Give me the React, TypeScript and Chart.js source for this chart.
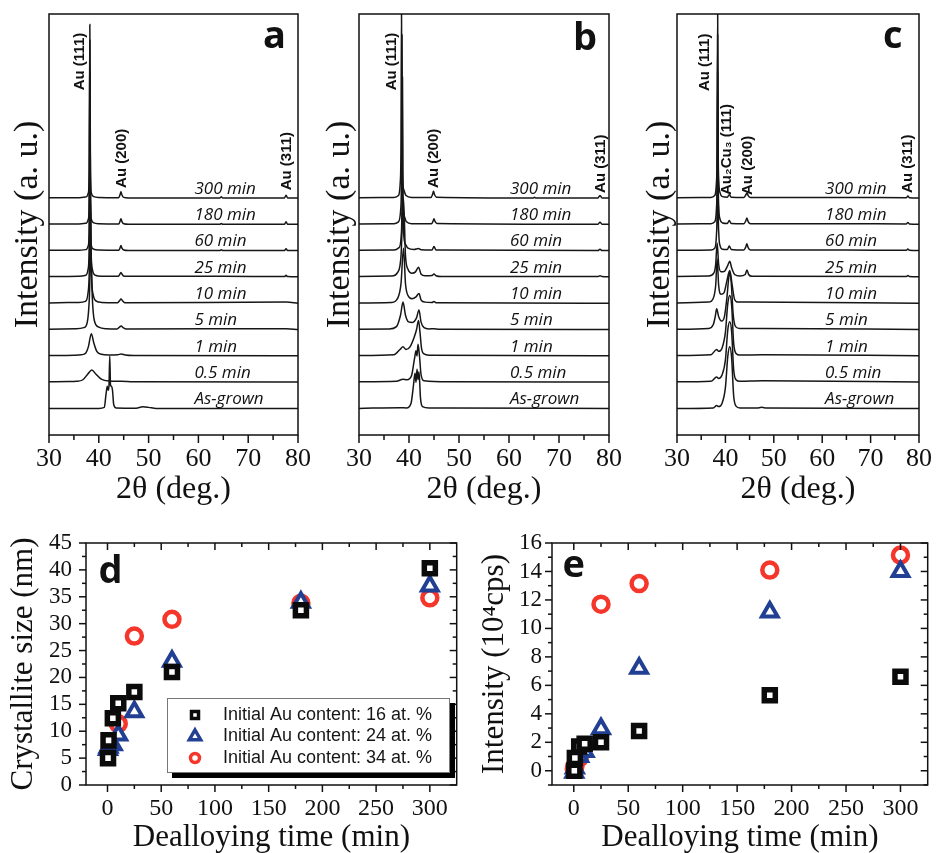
import React, { useEffect, useRef } from 'react';
import { Chart, registerables } from 'chart.js';

Chart.register(...registerables);

type Pt = [number, number];

const SERIF = "'Liberation Serif', 'Times New Roman', serif";
const SANS = "'Liberation Sans', Arial, sans-serif";
const OPEN = "'Open Sans', 'Liberation Sans', sans-serif";

// ---------------- XRD panels (a, b, c) ----------------
const TRACE_LABELS = ['As-grown', '0.5 min', '1 min', '5 min', '10 min', '25 min', '60 min', '180 min', '300 min'];
const TRACE_OFFSETS = [1, 2, 3, 4, 5, 6, 7, 8, 9];
const TWO_THETA_TICKS = [30, 40, 50, 60, 70, 80];
const TWO_THETA_MINOR = [35, 45, 55, 65, 75];

// panel a
const A_AG: Pt[] = [[30,0.01],[40,0.01],[41.1,0.05],[41.45,0.55],[41.7,0.85],[41.9,0.7],[42.05,0.9],[42.2,2.0],[42.35,0.9],[42.55,0.85],[42.75,0.7],[43.0,0.15],[43.5,0.03],[47.5,0.02],[48.8,0.07],[50,0.05],[51.5,0.01],[80,0.01]];
const A_05: Pt[] = [[30,0.02],[34,0.03],[35.5,0.04],[36.8,0.1],[37.8,0.32],[38.6,0.47],[39.4,0.32],[40.5,0.12],[42,0.05],[44.5,0.04],[47,0.02],[80,0.01]];
const A_1: Pt[] = [[30,0.02],[35,0.03],[36.5,0.05],[37.4,0.12],[37.9,0.35],[38.5,0.85],[39.0,0.5],[39.6,0.18],[40.5,0.07],[42,0.04],[43.8,0.05],[44.5,0.08],[45.3,0.04],[47,0.02],[80,0.01]];
const A_5: Pt[] = [[30,0.02],[35.5,0.04],[37.0,0.08],[37.7,0.3],[38.1,1.2],[38.4,3.0],[38.7,1.2],[39.1,0.35],[40,0.1],[41.5,0.04],[43.7,0.03],[44.1,0.09],[44.5,0.14],[44.9,0.08],[45.5,0.03],[77.6,0.04],[80,0.01]];
const A_10: Pt[] = [[30,0.02],[36,0.04],[37.3,0.08],[37.8,0.35],[38.1,1.3],[38.3,4.1],[38.5,1.3],[38.85,0.35],[39.5,0.09],[40.5,0.04],[43.8,0.03],[44.15,0.1],[44.45,0.17],[44.75,0.1],[45.2,0.03],[77.6,0.05],[80,0.01]];
const A_25: Pt[] = [[30,0.02],[36,0.03],[37.4,0.07],[37.85,0.3],[38.08,1.2],[38.25,5.6],[38.42,1.2],[38.7,0.3],[39.3,0.07],[40.5,0.03],[43.9,0.03],[44.2,0.1],[44.45,0.18],[44.7,0.1],[45.1,0.03],[64.6,0.03],[77.3,0.02],[77.6,0.07],[77.9,0.02],[80,0.01]];
const A_60: Pt[] = [[30,0.02],[36,0.02],[37.5,0.05],[37.9,0.2],[38.08,1.0],[38.2,6.8],[38.32,1.0],[38.5,0.2],[39,0.06],[40,0.03],[44,0.02],[44.25,0.1],[44.45,0.2],[44.65,0.1],[45,0.03],[46,0.01],[64.3,0.01],[64.6,0.04],[64.9,0.01],[77.3,0.01],[77.6,0.08],[77.9,0.01],[80,0.01]];
const A_180: Pt[] = [[30,0.02],[36,0.02],[37.5,0.05],[37.9,0.2],[38.08,1.0],[38.2,7.0],[38.32,1.0],[38.5,0.2],[39,0.06],[40,0.03],[44,0.02],[44.25,0.11],[44.45,0.22],[44.65,0.11],[45,0.03],[46,0.01],[64.3,0.01],[64.6,0.04],[64.9,0.01],[77.3,0.01],[77.6,0.1],[77.9,0.01],[80,0.01]];
const A_300: Pt[] = [[30,0.02],[36,0.02],[37.5,0.05],[37.9,0.2],[38.08,1.0],[38.2,6.6],[38.32,1.0],[38.5,0.2],[39,0.06],[40,0.03],[44,0.02],[44.25,0.12],[44.45,0.24],[44.65,0.12],[45,0.03],[46,0.01],[64.3,0.01],[64.6,0.05],[64.9,0.01],[77.3,0.01],[77.6,0.11],[77.9,0.01],[80,0.01]];

// panel b
const B_AG: Pt[] = [[30,0.01],[38.3,0.04],[39.5,0.03],[40.4,0.2],[40.9,0.9],[41.2,1.35],[41.4,1.0],[41.6,1.5],[41.8,1.1],[42.0,1.4],[42.3,0.4],[42.7,0.08],[44,0.03],[48,0.03],[80,0.01]];
const B_05: Pt[] = [[30,0.02],[37.5,0.04],[38.8,0.12],[39.6,0.1],[40.5,0.25],[41.1,0.9],[41.4,1.2],[41.6,1.0],[41.8,1.45],[42.1,1.0],[42.4,0.3],[43,0.06],[48,0.02],[80,0.01]];
const B_1: Pt[] = [[30,0.02],[37,0.05],[38.2,0.25],[38.8,0.35],[39.4,0.25],[40.2,0.35],[41.0,0.7],[41.5,1.0],[41.9,1.35],[42.2,0.9],[42.5,0.3],[43,0.08],[44,0.03],[80,0.01]];
const B_5: Pt[] = [[30,0.02],[36,0.03],[37.5,0.12],[38.3,0.55],[38.8,1.05],[39.3,0.55],[39.9,0.3],[40.7,0.28],[41.5,0.45],[42.0,0.75],[42.4,0.3],[43,0.08],[44,0.03],[45,0.04],[46,0.02],[80,0.01]];
const B_10: Pt[] = [[30,0.02],[36.5,0.04],[37.8,0.22],[38.4,0.75],[38.9,2.1],[39.3,0.75],[39.8,0.3],[40.6,0.18],[41.4,0.25],[42.0,0.38],[42.4,0.14],[43.2,0.05],[44.6,0.04],[45.0,0.07],[45.4,0.03],[80,0.01]];
const B_25: Pt[] = [[30,0.02],[36.5,0.04],[37.8,0.2],[38.4,0.8],[38.9,3.0],[39.3,0.8],[39.8,0.3],[40.6,0.15],[41.3,0.2],[41.9,0.38],[42.4,0.12],[43.2,0.05],[44.6,0.06],[45.0,0.12],[45.4,0.05],[46.5,0.02],[77.8,0.02],[78.2,0.05],[78.6,0.02],[80,0.01]];
const B_60: Pt[] = [[30,0.02],[37,0.03],[38.0,0.12],[38.45,0.6],[38.6,2.0],[38.7,6.6],[38.8,2.0],[38.95,0.6],[39.3,0.25],[39.8,0.1],[41.0,0.05],[41.9,0.09],[42.4,0.04],[44.6,0.03],[45.0,0.16],[45.4,0.03],[77.8,0.01],[78.2,0.06],[78.6,0.01],[80,0.01]];
const B_180: Pt[] = [[30,0.02],[37,0.03],[37.9,0.1],[38.35,0.6],[38.5,2.0],[38.6,7.2],[38.7,2.0],[38.85,0.6],[39.1,0.3],[39.5,0.1],[40.5,0.03],[44.5,0.03],[44.8,0.12],[45.0,0.22],[45.2,0.12],[45.6,0.04],[77.8,0.01],[78.2,0.09],[78.6,0.01],[80,0.01]];
const B_300: Pt[] = [[30,0.02],[37,0.03],[37.9,0.1],[38.25,0.6],[38.4,2.0],[38.5,7.2],[38.6,2.0],[38.75,0.6],[39.0,0.3],[39.4,0.1],[40.5,0.03],[44.4,0.03],[44.7,0.14],[44.9,0.26],[45.1,0.14],[45.5,0.04],[64.9,0.01],[65.1,0.04],[65.3,0.01],[77.8,0.01],[78.2,0.1],[78.6,0.01],[80,0.01]];

// panel c
const C_AG: Pt[] = [[30,0.01],[37.5,0.03],[38.2,0.12],[38.6,0.08],[39.3,0.2],[40.0,0.8],[40.5,2.0],[40.9,2.35],[41.3,1.9],[41.7,0.5],[42.2,0.1],[43,0.03],[46.5,0.03],[47.5,0.05],[48.5,0.03],[80,0.01]];
const C_05: Pt[] = [[30,0.02],[37,0.04],[38.2,0.2],[38.6,0.15],[39.3,0.28],[40.0,0.85],[40.5,2.0],[40.9,2.3],[41.3,1.9],[41.7,0.5],[42.2,0.1],[43,0.04],[47.5,0.06],[80,0.01]];
const C_1: Pt[] = [[30,0.02],[37,0.05],[38.2,0.25],[38.6,0.18],[39.3,0.3],[40.0,0.9],[40.5,2.0],[40.9,2.3],[41.3,1.9],[41.7,0.5],[42.2,0.1],[43,0.04],[47.5,0.05],[80,0.01]];
const C_5: Pt[] = [[30,0.02],[36.5,0.05],[37.5,0.2],[37.9,0.5],[38.2,0.8],[38.6,0.5],[39.2,0.33],[39.8,0.5],[40.3,1.2],[40.7,2.0],[40.9,2.2],[41.2,1.8],[41.6,0.6],[42.1,0.12],[43,0.05],[47.5,0.05],[80,0.01]];
const C_10: Pt[] = [[30,0.02],[36.5,0.05],[37.5,0.2],[38.0,0.7],[38.3,1.7],[38.6,0.7],[39.1,0.35],[39.7,0.4],[40.3,0.85],[40.9,1.25],[41.4,0.7],[41.9,0.15],[42.6,0.05],[44.4,0.05],[80,0.01]];
const C_25: Pt[] = [[30,0.02],[36.5,0.04],[37.6,0.15],[38.0,0.5],[38.3,1.3],[38.6,0.5],[39.1,0.2],[39.8,0.22],[40.5,0.45],[40.9,0.6],[41.3,0.35],[41.9,0.1],[43,0.04],[44.1,0.1],[44.45,0.27],[44.8,0.1],[45.5,0.03],[77.4,0.02],[77.7,0.06],[78,0.02],[80,0.01]];
const C_60: Pt[] = [[30,0.02],[37,0.03],[37.8,0.1],[38.15,0.6],[38.3,2.0],[38.4,6.8],[38.5,2.0],[38.65,0.6],[38.9,0.2],[39.4,0.06],[40.4,0.05],[40.8,0.18],[41.2,0.05],[43.8,0.03],[44.2,0.14],[44.45,0.27],[44.7,0.12],[45.2,0.03],[64.6,0.03],[77.4,0.02],[77.7,0.07],[78,0.02],[80,0.01]];
const C_180: Pt[] = [[30,0.02],[37,0.03],[37.8,0.1],[38.15,0.6],[38.3,2.0],[38.4,7.2],[38.5,2.0],[38.65,0.6],[38.9,0.2],[39.4,0.06],[40.4,0.04],[40.8,0.15],[41.2,0.04],[43.8,0.03],[44.2,0.13],[44.45,0.25],[44.7,0.11],[45.2,0.03],[64.6,0.03],[77.4,0.02],[77.7,0.08],[78,0.02],[80,0.01]];
const C_300: Pt[] = [[30,0.02],[37,0.03],[37.8,0.1],[38.15,0.6],[38.3,2.0],[38.4,7.2],[38.5,2.0],[38.65,0.6],[38.9,0.2],[39.4,0.06],[40.4,0.04],[40.8,0.13],[41.2,0.04],[43.8,0.03],[44.2,0.12],[44.45,0.2],[44.7,0.1],[45.2,0.03],[64.6,0.03],[77.4,0.02],[77.7,0.08],[78,0.02],[80,0.01]];

const PANEL_A = [A_AG, A_05, A_1, A_5, A_10, A_25, A_60, A_180, A_300];
const PANEL_B = [B_AG, B_05, B_1, B_5, B_10, B_25, B_60, B_180, B_300];
const PANEL_C = [C_AG, C_05, C_1, C_5, C_10, C_25, C_60, C_180, C_300];

// ---------------- Scatter panels (d, e) ----------------
const SERIES_LABELS = ['Initial Au content: 16 at. %', 'Initial Au content: 24 at. %', 'Initial Au content: 34 at. %'];
const TIMES_MIN = [0.5, 1, 5, 10, 25, 60, 180, 300];
const TIMES_34_SIZE = [10, 25, 60, 180, 300];
const SIZE_16 = [5, 8.3, 12.4, 15.2, 17.3, 21, 32.5, 40.3];
const SIZE_24 = [6.6, 7.0, 7.5, 9.3, 13.6, 23, 34, 37];
const SIZE_34 = [11.4, 27.7, 30.8, 33.8, 34.8];
const INT_16 = [0, 0.9, 1.7, 1.9, 2.0, 2.8, 5.3, 6.6];
const INT_24 = [-0.1, 0.2, 1.0, 1.35, 2.95, 7.2, 11.15, 14.0];
const INT_34 = [0.1, 0.3, 0.9, 1.75, 11.7, 13.15, 14.1, 15.15];

const D_X_TICKS = [0, 50, 100, 150, 200, 250, 300];
const D_X_MINOR = [25, 75, 125, 175, 225, 275];
const D_Y_TICKS = [0, 5, 10, 15, 20, 25, 30, 35, 40, 45];
const D_Y_MINOR = [2.5, 7.5, 12.5, 17.5, 22.5, 27.5, 32.5, 37.5, 42.5];
const E_Y_TICKS = [0, 2, 4, 6, 8, 10, 12, 14, 16];
const E_Y_MINOR = [-1, 1, 3, 5, 7, 9, 11, 13, 15];

const BLACK = '#0b0b0b';
const BLUE = '#213f93';
const RED = '#f4362b';

// ---------------- plugins ----------------
type TickSpec = { axis: 'x' | 'y'; side: 'top' | 'bottom' | 'left' | 'right'; values: number[]; len: number };
function framePlugin(ticks: TickSpec[], lw: number) {
  return {
    id: 'frameTicks',
    afterDraw(chart: any) {
      const { ctx, chartArea: a, scales } = chart;
      ctx.save();
      ctx.strokeStyle = '#111';
      ctx.lineWidth = lw;
      ctx.strokeRect(a.left, a.top, a.right - a.left, a.bottom - a.top);
      ticks.forEach((t) => {
        const sc = scales[t.axis];
        t.values.forEach((v) => {
          const p = sc.getPixelForValue(v);
          ctx.beginPath();
          if (t.side === 'bottom') { ctx.moveTo(p, a.bottom); ctx.lineTo(p, a.bottom + t.len); }
          if (t.side === 'top') { ctx.moveTo(p, a.top); ctx.lineTo(p, a.top + t.len); }
          if (t.side === 'left') { ctx.moveTo(a.left, p); ctx.lineTo(a.left - t.len, p); }
          if (t.side === 'right') { ctx.moveTo(a.right, p); ctx.lineTo(a.right - t.len, p); }
          ctx.stroke();
        });
      });
      ctx.restore();
    },
  };
}

type TextItem = { text: string; x: number; y: number; font: string; align?: CanvasTextAlign; baseline?: CanvasTextBaseline; rotate?: number; color?: string };
function textPlugin(items: TextItem[]) {
  return {
    id: 'texts',
    afterDraw(chart: any) {
      const { ctx, scales } = chart;
      items.forEach((it) => {
        ctx.save();
        ctx.font = it.font;
        ctx.fillStyle = it.color || '#111';
        ctx.textAlign = it.align || 'left';
        ctx.textBaseline = it.baseline || 'alphabetic';
        ctx.translate(scales.x.getPixelForValue(it.x), scales.y.getPixelForValue(it.y));
        if (it.rotate) ctx.rotate((it.rotate * Math.PI) / 180);
        ctx.fillText(it.text, 0, 0);
        ctx.restore();
      });
    },
  };
}

function drawMarker(ctx: CanvasRenderingContext2D, style: string, x: number, y: number, color: string) {
  ctx.save();
  ctx.strokeStyle = color;
  ctx.fillStyle = '#fff';
  if (style === 'rect') {
    ctx.lineWidth = 3.5;
    ctx.beginPath(); ctx.rect(x - 3.5, y - 3.5, 7, 7); ctx.fill(); ctx.stroke();
  } else if (style === 'triangle') {
    ctx.lineWidth = 3.5;
    const r = 6.5;
    ctx.beginPath();
    ctx.moveTo(x, y - r);
    ctx.lineTo(x + r * 0.866, y + r * 0.5);
    ctx.lineTo(x - r * 0.866, y + r * 0.5);
    ctx.closePath(); ctx.fill(); ctx.stroke();
  } else {
    ctx.lineWidth = 3.5;
    ctx.beginPath(); ctx.arc(x, y, 4.5, 0, Math.PI * 2); ctx.fill(); ctx.stroke();
  }
  ctx.restore();
}

function legendPlugin() {
  return {
    id: 'legendBox',
    afterDraw(chart: any) {
      const { ctx, chartArea: a } = chart;
      const x0 = a.left + 81, y0 = a.top + 155, w = 283, h = 75;
      ctx.save();
      ctx.fillStyle = '#000';
      ctx.fillRect(x0 + 5, y0 + 5, w, h);
      ctx.fillStyle = '#fff';
      ctx.fillRect(x0, y0, w, h);
      ctx.strokeStyle = '#777';
      ctx.lineWidth = 1;
      ctx.strokeRect(x0 + 0.5, y0 + 0.5, w - 1, h - 1);
      chart.data.datasets.forEach((ds: any, i: number) => {
        const cy = y0 + 17 + i * 21.5;
        drawMarker(ctx, ds.pointStyle, x0 + 28, cy, ds.borderColor);
        ctx.fillStyle = '#161616';
        ctx.font = `18px ${SANS}`;
        ctx.textBaseline = 'middle';
        ctx.textAlign = 'left';
        ctx.fillText(ds.label, x0 + 56, cy);
      });
      ctx.restore();
    },
  };
}

// ---------------- configs ----------------
function xrdConfig(profiles: Pt[][], padRight: number, yWidth: number, titlePad: number, labelX: number, texts: TextItem[]) {
  const labelItems: TextItem[] = TRACE_LABELS.map((t, i) => ({
    text: t, x: labelX, y: TRACE_OFFSETS[i] + 0.17, font: `italic 17px ${OPEN}`,
  }));
  return {
    type: 'line',
    data: {
      datasets: profiles.map((p, i) => ({
        label: TRACE_LABELS[i],
        data: p.map(([x, y]) => ({ x, y: y + TRACE_OFFSETS[i] })),
        borderColor: '#161616',
        borderWidth: 1.5,
        pointRadius: 0,
        cubicInterpolationMode: 'monotone',
        fill: false,
      })),
    },
    options: {
      animation: false,
      responsive: false,
      devicePixelRatio: 1,
      layout: { padding: { top: 14, right: padRight, left: 0, bottom: 0 } },
      plugins: { legend: { display: false }, tooltip: { enabled: false } },
      scales: {
        x: {
          type: 'linear', min: 30, max: 80,
          afterBuildTicks: (s: any) => { s.ticks = TWO_THETA_TICKS.map((v) => ({ value: v })); },
          afterFit: (s: any) => { s.height = 75; },
          ticks: { font: { family: SERIF, size: 26 }, color: '#111', padding: 9, maxRotation: 0, autoSkip: false },
          grid: { display: false, drawTicks: false },
          border: { display: false },
          title: { display: true, text: '2θ (deg.)', font: { family: SERIF, size: 32 }, color: '#111', padding: { top: 0, bottom: 1 } },
        },
        y: {
          type: 'linear', min: 0, max: 16,
          afterFit: (s: any) => { s.width = yWidth; },
          ticks: { display: false },
          grid: { display: false, drawTicks: false },
          border: { display: false },
          title: { display: true, text: 'Intensity (a. u.)', font: { family: SERIF, size: 34 }, color: '#111', padding: { top: titlePad, bottom: 0 } },
        },
      },
    },
    plugins: [
      framePlugin([
        { axis: 'x', side: 'bottom', values: TWO_THETA_TICKS, len: 8 },
        { axis: 'x', side: 'bottom', values: TWO_THETA_MINOR, len: 5 },
      ], 1.5),
      textPlugin([...labelItems, ...texts]),
    ],
  };
}

const ANNOT = `bold 15px ${SANS}`;
const LETTER = `bold 38px ${OPEN}`;

function scatterConfig(opts: {
  series: { x: number[]; y: number[] }[];
  yMin: number; yMax: number; yTicks: number[]; yMinor: number[];
  yTitle: string; yWidth: number; yPad: number; yTitlePad: number; padRight: number;
  letter: TextItem; legend: boolean;
}) {
  const styles = [
    { pointStyle: 'rect', pointRadius: 7.8, borderWidth: 5.5, color: BLACK },
    { pointStyle: 'triangle', pointRadius: 9, borderWidth: 4, color: BLUE },
    { pointStyle: 'circle', pointRadius: 7.5, borderWidth: 4.5, color: RED },
  ];
  const plugins: any[] = [
    framePlugin([
      { axis: 'x', side: 'bottom', values: D_X_TICKS, len: 7 },
      { axis: 'x', side: 'bottom', values: D_X_MINOR, len: 4 },
      { axis: 'x', side: 'top', values: D_X_TICKS, len: 7 },
      { axis: 'x', side: 'top', values: D_X_MINOR, len: 4 },
      { axis: 'y', side: 'left', values: opts.yTicks, len: 7 },
      { axis: 'y', side: 'left', values: opts.yMinor, len: 4 },
      { axis: 'y', side: 'right', values: opts.yTicks, len: 7 },
      { axis: 'y', side: 'right', values: opts.yMinor, len: 4 },
    ], 1.5),
    textPlugin([opts.letter]),
  ];
  if (opts.legend) plugins.push(legendPlugin());
  return {
    type: 'scatter',
    data: {
      datasets: opts.series.map((s, i) => ({
        label: SERIES_LABELS[i],
        data: s.x.map((x, j) => ({ x, y: s.y[j] })),
        pointStyle: styles[i].pointStyle,
        pointRadius: styles[i].pointRadius,
        pointHoverRadius: styles[i].pointRadius,
        borderWidth: styles[i].borderWidth,
        borderColor: styles[i].color,
        backgroundColor: '#ffffff',
        showLine: false,
      })),
    },
    options: {
      animation: false,
      responsive: false,
      devicePixelRatio: 1,
      layout: { padding: { top: 33, right: opts.padRight, left: 0, bottom: 0 } },
      plugins: { legend: { display: false }, tooltip: { enabled: false } },
      scales: {
        x: {
          type: 'linear', min: -20, max: 325,
          afterBuildTicks: (s: any) => { s.ticks = D_X_TICKS.map((v) => ({ value: v })); },
          afterFit: (s: any) => { s.height = 68; },
          ticks: { font: { family: SERIF, size: 24 }, color: '#111', padding: 9, maxRotation: 0, autoSkip: false },
          grid: { display: false, drawTicks: false },
          border: { display: false },
          title: { display: true, text: 'Dealloying time (min)', font: { family: SERIF, size: 31, lineHeight: 1 }, color: '#111', padding: { top: 0, bottom: 0 } },
        },
        y: {
          type: 'linear', min: opts.yMin, max: opts.yMax,
          afterBuildTicks: (s: any) => { s.ticks = opts.yTicks.map((v) => ({ value: v })); },
          afterFit: (s: any) => { s.width = opts.yWidth; },
          ticks: { font: { family: SERIF, size: 23 }, color: '#111', padding: opts.yPad, autoSkip: false },
          grid: { display: false, drawTicks: false },
          border: { display: false },
          title: { display: true, text: opts.yTitle, font: { family: SERIF, size: 31, lineHeight: 1 }, color: '#111', padding: { top: opts.yTitlePad, bottom: 0 } },
        },
      },
    },
    plugins,
  };
}

// ---------------- components ----------------
function ChartCanvas({ left, top, width, height, make }: { left: number; top: number; width: number; height: number; make: () => any }) {
  const ref = useRef<HTMLCanvasElement>(null);
  useEffect(() => {
    const chart = new Chart(ref.current as HTMLCanvasElement, make());
    return () => chart.destroy();
  }, []);
  return (
    <canvas
      ref={ref}
      width={width}
      height={height}
      style={{ position: 'absolute', left, top, width, height, display: 'block' }}
    />
  );
}

export default function App() {
  const makeA = () => xrdConfig(PANEL_A, 21, 49, 8, 59.2, [
    { text: 'Au (111)', x: 36.2, y: 13.1, font: ANNOT, rotate: -90, baseline: 'middle' },
    { text: 'Au (200)', x: 44.6, y: 9.39, font: ANNOT, rotate: -90, baseline: 'middle' },
    { text: 'Au (311)', x: 77.7, y: 9.3, font: ANNOT, rotate: -90, baseline: 'middle' },
    { text: 'a', x: 77.6, y: 14.7, font: LETTER, align: 'right' },
  ]);
  const makeB = () => xrdConfig(PANEL_B, 31, 39, 0, 60.2, [
    { text: 'Au (111)', x: 36.5, y: 13.1, font: ANNOT, rotate: -90, baseline: 'middle' },
    { text: 'Au (200)', x: 45.0, y: 9.39, font: ANNOT, rotate: -90, baseline: 'middle' },
    { text: 'Au (311)', x: 78.3, y: 9.2, font: ANNOT, rotate: -90, baseline: 'middle' },
    { text: 'b', x: 77.6, y: 14.63, font: LETTER, align: 'right' },
  ]);
  const makeC = () => xrdConfig(PANEL_C, 14, 37, 0, 60.6, [
    { text: 'Au (111)', x: 35.8, y: 13.07, font: ANNOT, rotate: -90, baseline: 'middle' },
    { text: 'Au₂Cu₃ (111)', x: 40.4, y: 9.12, font: ANNOT, rotate: -90, baseline: 'middle' },
    { text: 'Au (200)', x: 44.6, y: 9.12, font: ANNOT, rotate: -90, baseline: 'middle' },
    { text: 'Au (311)', x: 77.6, y: 9.2, font: ANNOT, rotate: -90, baseline: 'middle' },
    { text: 'c', x: 76.6, y: 14.7, font: LETTER, align: 'right' },
  ]);
  const makeD = () => scatterConfig({
    series: [
      { x: TIMES_MIN, y: SIZE_16 },
      { x: TIMES_MIN, y: SIZE_24 },
      { x: TIMES_34_SIZE, y: SIZE_34 },
    ],
    yMin: 0, yMax: 45, yTicks: D_Y_TICKS, yMinor: D_Y_MINOR,
    yTitle: 'Crystallite size (nm)', yWidth: 86, yPad: 14, yTitlePad: 8, padRight: 8,
    letter: { text: 'd', x: -8.3, y: 37.6, font: LETTER },
    legend: true,
  });
  const makeE = () => scatterConfig({
    series: [
      { x: TIMES_MIN, y: INT_16 },
      { x: TIMES_MIN, y: INT_24 },
      { x: TIMES_MIN, y: INT_34 },
    ],
    yMin: -1, yMax: 16, yTicks: E_Y_TICKS, yMinor: E_Y_MINOR,
    yTitle: 'Intensity (10⁴cps)', yWidth: 82, yPad: 10, yTitlePad: 9, padRight: 13,
    letter: { text: 'e', x: -10.3, y: 13.6, font: LETTER },
    legend: false,
  });
  return (
    <div style={{ position: 'absolute', left: 0, top: 0, width: 941, height: 853, background: '#fff', overflow: 'hidden' }}>
      <ChartCanvas left={0} top={0} width={320} height={510} make={makeA} />
      <ChartCanvas left={320} top={0} width={320} height={510} make={makeB} />
      <ChartCanvas left={640} top={0} width={301} height={510} make={makeC} />
      <ChartCanvas left={0} top={510} width={470} height={343} make={makeD} />
      <ChartCanvas left={470} top={510} width={471} height={343} make={makeE} />
    </div>
  );
}
